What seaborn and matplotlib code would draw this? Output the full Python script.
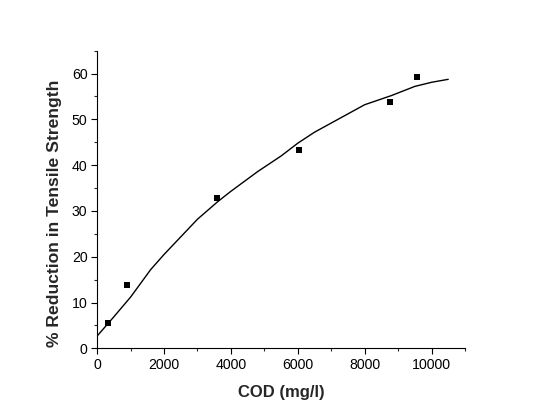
import matplotlib
matplotlib.use("Agg")
import matplotlib.pyplot as plt
import seaborn as sns
import pandas as pd
from matplotlib.ticker import MultipleLocator

cod_points = [328, 886, 3592, 6030, 8766, 9562]
reduction_points = [5.6, 13.9, 32.9, 43.4, 53.7, 59.3]

cod_fit = [0, 500, 1000, 1600, 2000, 3000, 3600, 4000, 4800, 5500, 6000, 6500, 7000, 8000, 8800, 9500, 10000, 10500]
reduction_fit = [2.7, 6.9, 11.2, 17.2, 20.5, 28.2, 32.0, 34.3, 38.6, 42.0, 44.8, 47.2, 49.2, 53.2, 55.2, 57.2, 58.1, 58.75]

sns.set_style("ticks")
plt.rcParams['font.family'] = ['Liberation Sans', 'DejaVu Sans']

fig = plt.figure(figsize=(5.4, 4.18), dpi=100)
ax = fig.add_axes([0.180, 0.1667, 0.681, 0.712])

df_pts = pd.DataFrame({"COD": cod_points, "R": reduction_points})
df_fit = pd.DataFrame({"COD": cod_fit, "R": reduction_fit})

sns.lineplot(data=df_fit, x="COD", y="R", ax=ax, color="black", linewidth=1.0, sort=False)
sns.scatterplot(data=df_pts, x="COD", y="R", ax=ax, color="black", marker="s", s=22, edgecolor="black", linewidth=0, zorder=3)

ax.set_xlim(0, 11000)
ax.set_ylim(0, 65)
ax.xaxis.set_major_locator(MultipleLocator(2000))
ax.xaxis.set_minor_locator(MultipleLocator(1000))
ax.yaxis.set_major_locator(MultipleLocator(10))
ax.yaxis.set_minor_locator(MultipleLocator(5))
ax.tick_params(which="major", direction="out", length=4, width=0.8, labelsize=10.2, colors="black", pad=3)
ax.tick_params(which="minor", direction="out", length=2.5, width=0.8)
for s in ["top", "right"]:
    ax.spines[s].set_visible(False)
for s in ["left", "bottom"]:
    ax.spines[s].set_linewidth(0.8)
    ax.spines[s].set_color("black")

ax.set_xlabel("COD (mg/l)", fontsize=12, fontweight="bold", labelpad=9)
ax.set_ylabel("% Reduction in Tensile Strength", fontsize=12.6, fontweight="bold")
ax.yaxis.set_label_coords(-0.097, 0.455)

fig.savefig("out.png", dpi=100)
